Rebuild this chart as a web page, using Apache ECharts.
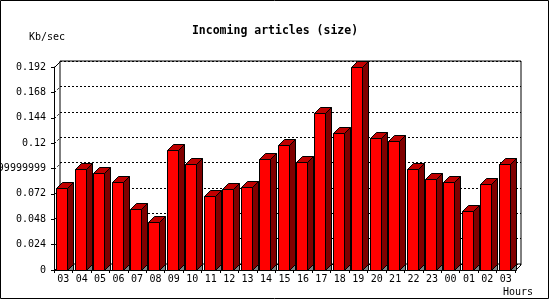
<!DOCTYPE html>
<html>
<head>
<meta charset="utf-8">
<script src="https://cdn.jsdelivr.net/npm/echarts@6/dist/echarts.min.js"></script>
<style>html,body{margin:0;padding:0;background:#fff;}#c{width:550px;height:300px;}</style>
</head>
<body>
<div id="c"></div>
<script>
const categories = ["03","04","05","06","07","08","09","10","11","12","13","14","15","16","17","18","19","20","21","22","23","00","01","02","03"];
const sizeValues = [0.0772,0.0952,0.0914,0.0829,0.0574,0.0451,0.1134,0.1000,0.0697,0.0763,0.0788,0.1046,0.1179,0.1018,0.1481,0.1292,0.1916,0.1245,0.1216,0.0952,0.0857,0.0829,0.0555,0.0810,0.0999];
const yTickLabels = ["0","0.024","0.048","0.072","0.09599999999999999","0.12","0.144","0.168","0.192"];
const yStep = 0.024;
const yMax = 0.192;
const titleText = "Incoming articles (size)";
const yUnit = "Kb/sec";
const xUnit = "Hours";

const FONT = "DejaVu Sans Mono";
const D = 6;

const chart = echarts.init(document.getElementById('c'), null, {renderer:'canvas'});

function barItem(params, api){
  const i = api.value(0), v = api.value(1);
  const base = api.coord([i, 0]), top = api.coord([i, v]);
  const c = Math.round(base[0]);
  const yb = Math.round(base[1]) + 0.5, yt = Math.round(top[1]) + 0.5;
  const l = c - 6.5, r = c + 4.5;
  const st = {stroke:'#000', lineWidth:1};
  return {type:'group', children:[
    {type:'polygon', shape:{points:[[r,yb],[r+D,yb-D],[r+D,yb]]}, style:Object.assign({fill:'#808080'}, st)},
    {type:'polygon', shape:{points:[[r,yb],[r+D,yb-D],[r+D,yt-D],[r,yt]]}, style:Object.assign({fill:'#800000'}, st)},
    {type:'polygon', shape:{points:[[l,yt],[l+D,yt-D],[r+D,yt-D],[r,yt]]}, style:Object.assign({fill:'#c00000'}, st)},
    {type:'rect', shape:{x:l, y:yt, width:r-l, height:yb-yt}, style:Object.assign({fill:'#ff0000'}, st)}
  ]};
}

function wallItem(params, api){
  const v = api.value(0);
  const cs = params.coordSys;
  const p = api.coord([0, v]);
  const x0 = cs.x + 0.5, y0 = Math.round(p[1]) + 0.5;
  const solid = (v === 0 || v === yMax);
  const children = [
    {type:'line', shape:{x1:x0, y1:y0, x2:x0+D, y2:y0-D}, style:{stroke:'#000', lineWidth:1, lineDash: solid ? null : [2,2]}}
  ];
  if (v === 0) {
    const xr = cs.x + cs.width + 0.5;
    children.push({type:'line', shape:{x1:xr, y1:y0, x2:xr+D, y2:y0-D}, style:{stroke:'#000', lineWidth:1}});
  }
  return {type:'group', children};
}

const tickVals = yTickLabels.map((s, k) => +(k * yStep).toFixed(3));

chart.setOption({
  animation:false,
  backgroundColor:'#fff',
  title:{text:titleText, left:'center', top:20, textStyle:{fontFamily:FONT, fontSize:11.5, fontWeight:'bold', color:'#000'}},
  grid:[
    {left:54, right:35, top:67, bottom:30, containLabel:false, outerBoundsMode:'none'},
    {left:60, right:29, top:61, bottom:36, show:true, borderColor:'#000', borderWidth:1, backgroundColor:'transparent', containLabel:false, outerBoundsMode:'none'}
  ],
  xAxis:[
    {type:'category', gridIndex:0, data:categories, boundaryGap:true,
     axisLine:{lineStyle:{color:'#000', width:1}},
     axisTick:{show:true, length:3, lineStyle:{color:'#000'}, alignWithLabel:false},
     axisLabel:{fontFamily:FONT, fontSize:10, color:'#000', margin:4, interval:0, hideOverlap:false},
     splitLine:{show:false}},
    {type:'category', gridIndex:1, data:categories, show:false}
  ],
  yAxis:[
    {type:'value', gridIndex:0, min:0, max:yMax, interval:yStep,
     axisLine:{show:true, lineStyle:{color:'#000', width:1}},
     axisTick:{show:true, length:3, lineStyle:{color:'#000'}},
     axisLabel:{fontFamily:FONT, fontSize:10, color:'#000', margin:8, hideOverlap:false,
       formatter:(val) => yTickLabels[Math.round(val / yStep)] || ''},
     splitLine:{show:false}},
    {type:'value', gridIndex:1, min:0, max:yMax, interval:yStep,
     axisLine:{show:false}, axisTick:{show:false}, axisLabel:{show:false},
     splitLine:{show:true, lineStyle:{color:'#000', type:[2,2], width:1}}}
  ],
  series:[
    {type:'custom', xAxisIndex:0, yAxisIndex:0, renderItem:wallItem, data:tickVals.map(v => [v]), encode:{y:0}, clip:false, z:1, silent:true},
    {type:'custom', xAxisIndex:0, yAxisIndex:0, renderItem:barItem, data:sizeValues.map((v, i) => [i, v]), encode:{x:0, y:1}, clip:false, z:3, silent:true}
  ],
  graphic:[
    {type:'rect', shape:{x:0.5, y:0.5, width:548, height:298}, style:{fill:null, stroke:'#000', lineWidth:1}, z:100},
    {type:'text', x:29, y:37, style:{text:yUnit, fontFamily:FONT, fontSize:10, fill:'#000', verticalAlign:'middle', align:'left'}},
    {type:'text', x:533, y:292, style:{text:xUnit, fontFamily:FONT, fontSize:10, fill:'#000', verticalAlign:'middle', align:'right'}}
  ]
});
</script>
</body>
</html>
